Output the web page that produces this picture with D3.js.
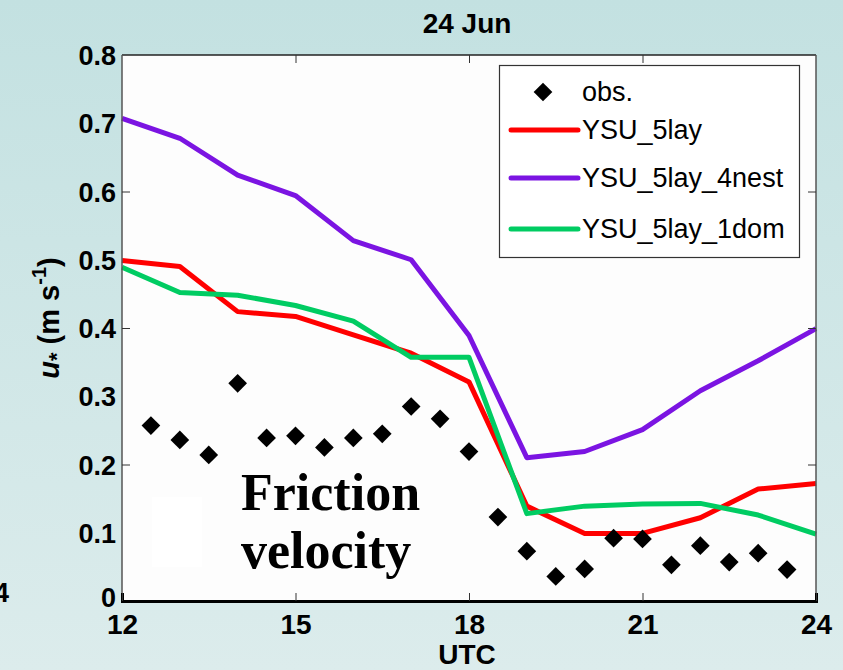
<!DOCTYPE html>
<html>
<head>
<meta charset="utf-8">
<script src="https://cdn.jsdelivr.net/npm/d3@7/dist/d3.min.js"></script>
<style>
  html, body { margin: 0; padding: 0; }
  svg { display: block; }
</style>
</head>
<body>
<script>
// Friction velocity, 24 Jun: observations vs. three YSU model runs
const hours = [12, 13, 14, 15, 16, 17, 18, 19, 20, 21, 22, 23, 24];
const ysu5lay      = [0.499, 0.490, 0.424, 0.417, 0.390, 0.363, 0.321, 0.139, 0.099, 0.099, 0.122, 0.164, 0.172];
const ysu5lay4nest = [0.707, 0.678, 0.624, 0.594, 0.528, 0.500, 0.389, 0.210, 0.219, 0.251, 0.308, 0.352, 0.399];
const ysu5lay1dom  = [0.489, 0.452, 0.448, 0.433, 0.410, 0.357, 0.357, 0.128, 0.139, 0.142, 0.143, 0.126, 0.098];
const obsHours = [12.5, 13, 13.5, 14, 14.5, 15, 15.5, 16, 16.5, 17, 17.5, 18,
                  18.5, 19, 19.5, 20, 20.5, 21, 21.5, 22, 22.5, 23, 23.5];
const obsValues = [0.257, 0.236, 0.214, 0.319, 0.239, 0.242, 0.225, 0.239, 0.245, 0.285, 0.267, 0.219,
                   0.123, 0.073, 0.036, 0.047, 0.092, 0.091, 0.053, 0.081, 0.057, 0.070, 0.046];
const xTicks = [12, 15, 18, 21, 24];
const yTickLabels = [0, 0.1, 0.2, 0.3, 0.4, 0.5, 0.6, 0.7, 0.8];
const yTickMarks = [0.2, 0.4, 0.6];
const seriesNames = ["YSU_5lay", "YSU_5lay_4nest", "YSU_5lay_1dom"];
const seriesColors = ["#ff0000", "#7b14e2", "#00cc62"];

const W = 843, H = 670;
const L = 122, R = 816, T = 55, B = 601;

const svg = d3.select("body").append("svg").attr("width", W).attr("height", H);

const defs = svg.append("defs");
const grad = defs.append("linearGradient").attr("id", "bg").attr("x1", 0).attr("y1", 0).attr("x2", 0).attr("y2", 1);
grad.append("stop").attr("offset", "0%").attr("stop-color", "#c3e1e1");
grad.append("stop").attr("offset", "100%").attr("stop-color", "#dcecec");
svg.append("rect").attr("width", W).attr("height", H).attr("fill", "url(#bg)");

const x = d3.scaleLinear().domain([12, 24]).range([L, R]);
const y = d3.scaleLinear().domain([0, 0.8]).range([B, T]);

// plot area
svg.append("rect").attr("x", L).attr("y", T).attr("width", R - L).attr("height", B - T)
  .attr("fill", "#fdfdfd");
svg.append("rect").attr("x", 152).attr("y", 497).attr("width", 50).attr("height", 70)
  .attr("fill", "#ffffff");

// annotation
const ann = svg.append("text").attr("font-family", "'Liberation Serif', 'Times New Roman', serif")
  .attr("font-weight", "bold").attr("font-size", 52).attr("fill", "#000");
ann.append("tspan").attr("x", 241).attr("y", 510).text("Friction");
ann.append("tspan").attr("x", 241).attr("y", 568).text("velocity");

// model lines
const line = d3.line().x((d, i) => x(hours[i])).y(d => y(d));
[ysu5lay, ysu5lay4nest, ysu5lay1dom].forEach((vals, k) => {
  svg.append("path").datum(vals).attr("d", line)
    .attr("fill", "none").attr("stroke", seriesColors[k]).attr("stroke-width", 5)
    .attr("stroke-linejoin", "round");
});

// observations
const diamond = d3.symbol(d3.symbolSquare, 175);
svg.append("g").selectAll("path").data(obsValues).join("path")
  .attr("d", diamond)
  .attr("transform", (d, i) => `translate(${x(obsHours[i])},${y(d)}) rotate(45)`)
  .attr("fill", "#000");

// frame
svg.append("line").attr("x1", L).attr("x2", R).attr("y1", T).attr("y2", T).attr("stroke", "#222").attr("stroke-width", 1.5);
svg.append("line").attr("x1", R).attr("x2", R).attr("y1", T).attr("y2", B).attr("stroke", "#555").attr("stroke-width", 1.5);
svg.append("line").attr("x1", L).attr("x2", L).attr("y1", T).attr("y2", B).attr("stroke", "#555").attr("stroke-width", 1.5);

const axisFont = "'Liberation Sans', Arial, sans-serif";

// bottom axis: labels and inward ticks
const xAxis = svg.append("g").attr("transform", `translate(0,${B})`)
  .call(d3.axisBottom(x).tickValues(xTicks).tickSize(-8).tickPadding(12).tickFormat(d3.format("d")));
xAxis.select(".domain").attr("stroke", "#000").attr("stroke-width", 3);
xAxis.selectAll(".tick line").attr("stroke", "#333");
xAxis.selectAll("text").attr("font-family", axisFont).attr("font-weight", "bold")
  .attr("font-size", 28).attr("fill", "#000").attr("dy", "0.74em");

// top ticks
const xTop = svg.append("g").attr("transform", `translate(0,${T})`)
  .call(d3.axisTop(x).tickValues(xTicks.slice(1, -1)).tickSize(-8).tickFormat(""));
xTop.select(".domain").remove();
xTop.selectAll(".tick line").attr("stroke", "#333");

// left axis labels
const yAxis = svg.append("g").attr("transform", `translate(${L},0)`)
  .call(d3.axisLeft(y).tickValues(yTickLabels).tickSize(0).tickPadding(6)
    .tickFormat(d => d === 0 ? "0" : d3.format(".1f")(d)));
yAxis.select(".domain").remove();
yAxis.selectAll("text").attr("font-family", axisFont).attr("font-weight", "bold")
  .attr("font-size", 27).attr("fill", "#000").attr("dy", "0.36em");
yAxis.selectAll(".tick").filter(d => d === 0).select("text").attr("dy", "0.22em");

// left and right inward ticks
const yLeftTicks = svg.append("g").attr("transform", `translate(${L},0)`)
  .call(d3.axisLeft(y).tickValues(yTickMarks).tickSize(-8).tickFormat(""));
yLeftTicks.select(".domain").remove();
yLeftTicks.selectAll(".tick line").attr("stroke", "#333");
const yRightTicks = svg.append("g").attr("transform", `translate(${R},0)`)
  .call(d3.axisRight(y).tickValues(yTickMarks).tickSize(-8).tickFormat(""));
yRightTicks.select(".domain").remove();
yRightTicks.selectAll(".tick line").attr("stroke", "#333");

// titles
svg.append("text").attr("x", 467).attr("y", 33).attr("text-anchor", "middle")
  .attr("font-family", axisFont).attr("font-weight", "bold").attr("font-size", 28)
  .text("24 Jun");
svg.append("text").attr("x", 467).attr("y", 664).attr("text-anchor", "middle")
  .attr("font-family", axisFont).attr("font-weight", "bold").attr("font-size", 28)
  .text("UTC");

const yl = svg.append("text").attr("transform", "translate(59,318) rotate(-90)")
  .attr("text-anchor", "middle").attr("font-family", axisFont).attr("font-weight", "bold")
  .attr("font-size", 29);
yl.append("tspan").attr("font-style", "italic").text("u");
yl.append("tspan").attr("font-size", 22).attr("dy", 5).text("*");
yl.append("tspan").attr("dy", -5).text(" (m s");
yl.append("tspan").attr("font-size", 20).attr("dy", -13).text("-1");
yl.append("tspan").attr("dy", 13).text(")");

// fragment of neighbouring panel tick label
svg.append("text").attr("x", -6).attr("y", 602)
  .attr("font-family", axisFont).attr("font-weight", "bold").attr("font-size", 27).text("4");

// legend
const lg = svg.append("g");
lg.append("rect").attr("x", 499.5).attr("y", 65.5).attr("width", 300).attr("height", 192)
  .attr("fill", "#fff").attr("stroke", "#333").attr("stroke-width", 1.2);
lg.append("path").attr("d", diamond).attr("transform", "translate(543,92) rotate(45)").attr("fill", "#000");
lg.append("text").attr("x", 582).attr("y", 101).attr("font-family", axisFont)
  .attr("font-size", 27).text("obs.");
const rowY = [130, 178, 229];
seriesNames.forEach((name, k) => {
  lg.append("line").attr("x1", 511).attr("x2", 578).attr("y1", rowY[k]).attr("y2", rowY[k])
    .attr("stroke", seriesColors[k]).attr("stroke-width", 5).attr("stroke-linecap", "round");
  lg.append("text").attr("x", 582).attr("y", rowY[k] + 9).attr("font-family", axisFont)
    .attr("font-size", 27).text(name);
});
</script>
</body>
</html>
